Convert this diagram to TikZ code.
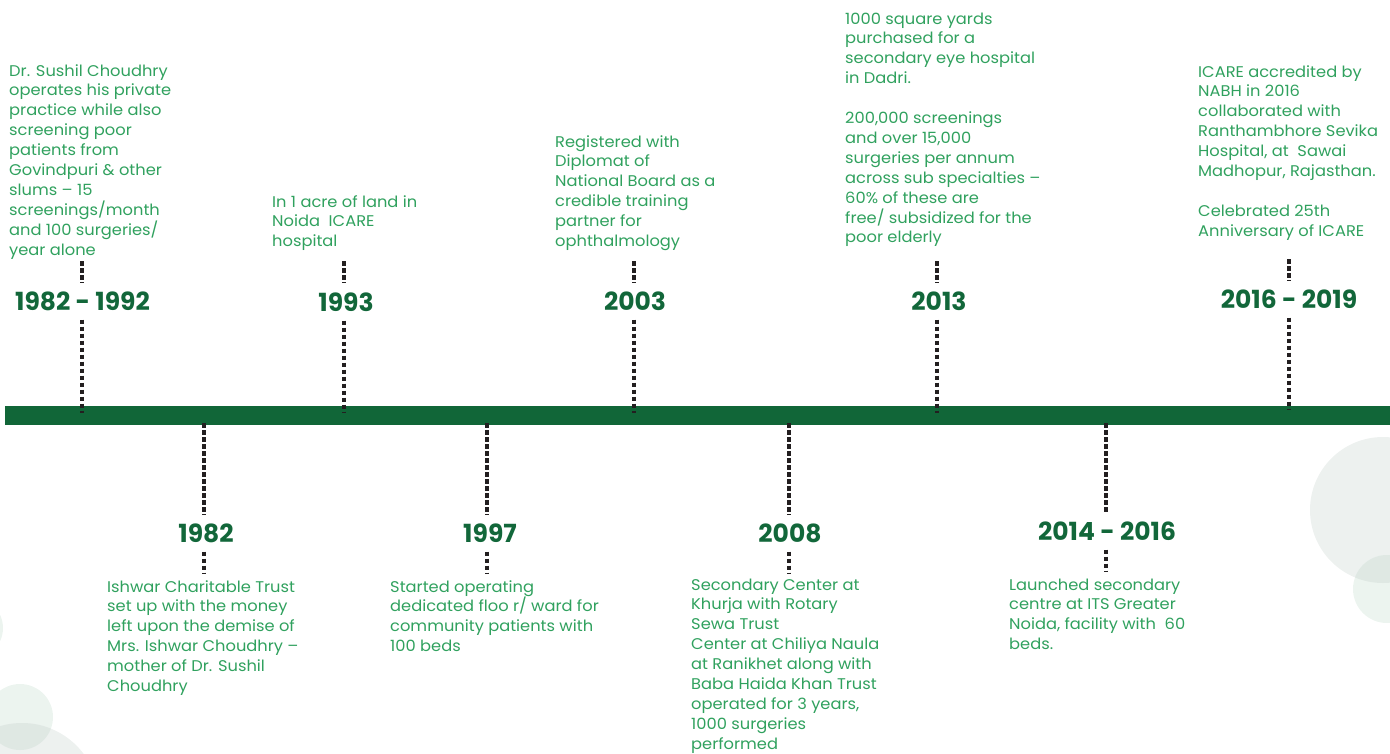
\documentclass[tikz,border=0pt]{standalone}
\usepackage{fontspec}
\setmainfont{Poppins}
\newfontfamily\descfont{Poppins}[FakeStretch=1.05]
\definecolor{bargreen}{HTML}{116638}
\definecolor{yeargreen}{HTML}{12673A}
\definecolor{txtgreen}{HTML}{30A15E}
\definecolor{dotcol}{HTML}{231F20}
\definecolor{circA}{HTML}{EDF1EF}
\definecolor{circB}{HTML}{ECF4EF}
\definecolor{circAB}{HTML}{DFE8E3}
\begin{document}
\begin{tikzpicture}[x=1pt,y=-1pt,
  desc/.style={anchor=base west, align=left, inner sep=0pt, text=txtgreen,
    font=\descfont\fontsize{15.5}{19.9}\selectfont},
  yearlbl/.style={anchor=base, text=yeargreen, font=\fontsize{25}{25}\selectfont\bfseries,
    text height=18pt, text depth=0pt, inner xsep=0pt, inner ysep=9.5pt},
  dotline/.style={draw=dotcol, line width=3.4pt, dash pattern=on 4.5pt off 2.5pt}]
\useasboundingbox (0,0) rectangle (1390,753);
% background circles
\fill[circA] (1383,510) circle (73);
\fill[circB] (1387,589) circle (34);
\begin{scope}
  \clip (1383,510) circle (73);
  \fill[circAB] (1387,589) circle (34);
\end{scope}
\fill[circB] (-28,628) circle (31);
\fill[circB] (20,717) circle (33);
\fill[circA] (22,800) circle (77);
\begin{scope}
  \clip (20,717) circle (33);
  \fill[circAB] (22,800) circle (77);
\end{scope}
% timeline bar
\fill[bargreen] (5,406) rectangle (1390,425);
% bar coordinates
\coordinate (ba1) at (82,413);
\coordinate (ba2) at (344,413);
\coordinate (ba3) at (634,413);
\coordinate (ba4) at (937,413);
\coordinate (ba5) at (1289,410);
\coordinate (bb1) at (204,423);
\coordinate (bb2) at (487,423);
\coordinate (bb3) at (789,423);
\coordinate (bb4) at (1106,423);
\coordinate (ta1) at (82,261);
\coordinate (ta2) at (344,261);
\coordinate (ta3) at (634,261);
\coordinate (ta4) at (937,261);
\coordinate (ta5) at (1289,259);
\coordinate (tb1) at (204,574);
\coordinate (tb2) at (487,574);
\coordinate (tb3) at (789,574);
\coordinate (tb4) at (1106,571);
% years
\node[yearlbl] (ya1) at (82.5,310) {1982 - 1992};
\node[yearlbl] (ya2) at (346,311) {1993};
\node[yearlbl] (ya3) at (635,310) {2003};
\node[yearlbl] (ya4) at (939,310) {2013};
\node[yearlbl] (ya5) at (1289,308) {2016 - 2019};
\node[yearlbl] (yb1) at (206,542) {1982};
\node[yearlbl] (yb2) at (490,542) {1997};
\node[yearlbl] (yb3) at (790,542) {2008};
\node[yearlbl] (yb4) at (1107,540) {2014 - 2016};
% connectors
\foreach \i in {1,...,5}{
  \draw[dotline] (ta\i) -- (ya\i.north -| ta\i);
  \draw[dotline] (ya\i.south -| ba\i) -- (ba\i);
}
\foreach \i in {1,...,4}{
  \draw[dotline] (bb\i) -- (yb\i.north -| bb\i);
  \draw[dotline] (yb\i.south -| bb\i) -- (tb\i);
}
% descriptions (anchored at the baseline of their last line)
\node[desc] (da1) at (9,255.1) {Dr. Sushil Choudhry\\operates his private\\practice while also\\screening poor\\patients from\\Govindpuri \& other\\slums – 15\\screenings/month\\and 100 surgeries/\\year alone};
\node[desc] (da2) at (272,246.8) {In 1 acre of land in\\Noida\ \ ICARE\\hospital};
\node[desc] (da3) at (555,246.5) {Registered with\\Diplomat of\\National Board as a\\credible training\\partner for\\ophthalmology};
\node[desc] (da4) at (845,242.9) {1000 square yards\\purchased for a\\secondary eye hospital\\in Dadri.\\[19.9pt]200,000 screenings\\and over 15,000\\surgeries per annum\\across sub specialties –\\60\% of these are\\free/ subsidized for the\\poor elderly};
\node[desc] (da5) at (1198,236.2) {ICARE accredited by\\NABH in 2016\\collaborated with\\Ranthambhore Sevika\\Hospital, at\ \ Sawai\\Madhopur, Rajasthan.\\[19.9pt]Celebrated 25th\\Anniversary of ICARE};
\node[desc] (db1) at (107,691.5) {Ishwar Charitable Trust\\set up with the money\\left upon the demise of\\Mrs. Ishwar Choudhry –\\mother of Dr. Sushil\\Choudhry};
\node[desc] (db2) at (390,651.7) {Started operating\\dedicated floo r/ ward for\\community patients with\\100 beds};
\node[desc] (db3) at (691,749.2) {Secondary Center at\\Khurja with Rotary\\Sewa Trust\\Center at Chiliya Naula\\at Ranikhet along with\\Baba Haida Khan Trust\\operated for 3 years,\\1000 surgeries\\performed};
\node[desc] (db4) at (1009,649.7) {Launched secondary\\centre at ITS Greater\\Noida, facility with\ \ 60\\beds.};
\end{tikzpicture}
\end{document}
